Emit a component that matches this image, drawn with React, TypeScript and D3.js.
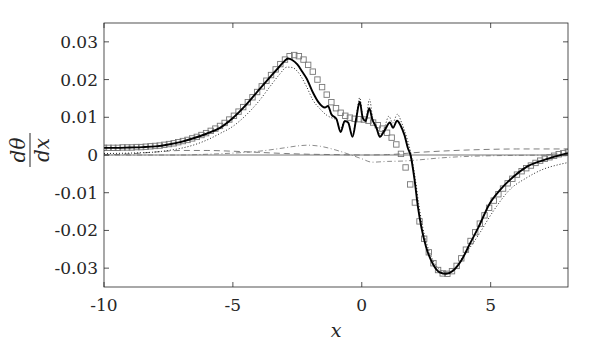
import * as d3 from 'd3';
import { useEffect, useRef } from 'react';

// x, y pairs
const solidCurve: [number, number][] = [
  [-10, 0.0019], [-9.5, 0.0019], [-9, 0.002], [-8.5, 0.0021], [-8, 0.0023], [-7.5, 0.0028],
  [-7, 0.0035], [-6.5, 0.0045], [-6, 0.0057], [-5.5, 0.0072], [-5, 0.0098], [-4.5, 0.0132],
  [-4, 0.0172], [-3.5, 0.0211], [-3.2, 0.0234], [-3, 0.0249], [-2.86, 0.0256], [-2.7, 0.0252],
  [-2.5, 0.024], [-2.3, 0.022], [-2.14, 0.0203], [-1.89, 0.0165], [-1.69, 0.0141], [-1.43, 0.0126],
  [-1.31, 0.013], [-1.18, 0.0108], [-0.98, 0.0095], [-0.82, 0.0061], [-0.66, 0.009], [-0.53, 0.0086],
  [-0.36, 0.0048], [-0.21, 0.0099], [-0.08, 0.0141], [0.04, 0.0098], [0.15, 0.009], [0.29, 0.0124],
  [0.41, 0.0094], [0.57, 0.0072], [0.7, 0.0048], [0.89, 0.0066], [1.09, 0.0086], [1.21, 0.0072],
  [1.37, 0.0091], [1.5, 0.0079], [1.66, 0.0052], [1.79, 0.0018], [1.89, 0.0], [2.05, -0.0067],
  [2.18, -0.0138], [2.31, -0.0191], [2.5, -0.0245], [2.76, -0.0289], [3.02, -0.0311], [3.28, -0.0315],
  [3.54, -0.0307], [3.86, -0.028], [4.19, -0.0236], [4.51, -0.0194], [4.96, -0.0129], [5.35, -0.0094],
  [5.86, -0.0059], [6.38, -0.0032], [7.03, -0.0014], [7.67, -0.0001], [8, 0.0005],
];

const squareX: number[] = [
  -10, -9.82, -9.64, -9.46, -9.28, -9.1, -8.92, -8.74, -8.56, -8.38, -8.2, -8.02, -7.84, -7.66,
  -7.48, -7.3, -7.12, -6.94, -6.76, -6.58, -6.4, -6.22, -6.04, -5.86, -5.68, -5.5, -5.32, -5.14,
  -4.96, -4.78, -4.6, -4.42, -4.24, -4.06, -3.88, -3.7, -3.52, -3.34, -3.16, -2.98, -2.8, -2.62,
  -2.44, -2.26, -2.08, -1.9, -1.72, -1.54, -1.36, -1.18, -1, -0.82, -0.64, -0.46, -0.28, -0.1,
  0.08, 0.26, 0.44, 0.62, 0.8, 0.98, 1.16, 1.34, 1.52, 1.7, 1.88, 2.06, 2.24, 2.42, 2.6, 2.78,
  2.96, 3.14, 3.32, 3.5, 3.68, 3.86, 4.04, 4.22, 4.4, 4.58, 4.76, 4.94, 5.12, 5.3, 5.48, 5.66,
  5.84, 6.02, 6.2, 6.38, 6.56, 6.74, 6.92, 7.1, 7.28, 7.46, 7.64, 7.82, 8,
];
const squareY: number[] = [
  0.0019, 0.0019, 0.0019, 0.0019, 0.002, 0.002, 0.002, 0.0021, 0.0021, 0.0022, 0.0023, 0.0024,
  0.0025, 0.0027, 0.0029, 0.0031, 0.0034, 0.0037, 0.004, 0.0044, 0.0048, 0.0053, 0.0058, 0.0064,
  0.007, 0.0077, 0.0085, 0.0094, 0.0104, 0.0115, 0.0127, 0.014, 0.0153, 0.0167, 0.0182, 0.0197,
  0.0212, 0.0227, 0.0241, 0.0253, 0.0262, 0.0265, 0.0262, 0.0253, 0.0239, 0.0221, 0.02, 0.018,
  0.016, 0.014, 0.0124, 0.0112, 0.0104, 0.0099, 0.0096, 0.0095, 0.0094, 0.0091, 0.0086, 0.0079,
  0.007, 0.0059, 0.0046, 0.0028, 0.0003, -0.0033, -0.0078, -0.0126, -0.0176, -0.0222, -0.0258,
  -0.0287, -0.0305, -0.0314, -0.0315, -0.0308, -0.0294, -0.0274, -0.0251, -0.0228, -0.0205,
  -0.0182, -0.016, -0.014, -0.0121, -0.0104, -0.0089, -0.0075, -0.0063, -0.0052, -0.0043,
  -0.0035, -0.0028, -0.0021, -0.0015, -0.001, -0.0006, -0.0002, 0.0002, 0.0005, 0.0008,
];

const dottedCurve: [number, number][] = [
  [-10, 0.0004], [-9, 0.0005], [-8, 0.0008], [-7.5, 0.0012], [-7, 0.0018], [-6.5, 0.0027],
  [-6, 0.004], [-5.5, 0.0057], [-5, 0.0076], [-4.5, 0.0105], [-4, 0.0142], [-3.5, 0.0187],
  [-3.2, 0.0213], [-2.9, 0.0233], [-2.7, 0.0232], [-2.5, 0.0222], [-2.14, 0.0181], [-1.89, 0.0145],
  [-1.63, 0.0123], [-1.37, 0.0106], [-1.11, 0.0097], [-0.98, 0.0094], [-0.85, 0.0068],
  [-0.66, 0.009], [-0.53, 0.0086], [-0.36, 0.0055], [-0.21, 0.0105], [-0.08, 0.0152],
  [0.05, 0.0098], [0.15, 0.0095], [0.3, 0.0148], [0.42, 0.01], [0.57, 0.0078], [0.7, 0.0055],
  [0.89, 0.0075], [1.05, 0.0103], [1.2, 0.0085], [1.38, 0.0108], [1.55, 0.0085], [1.75, 0.0045],
  [1.92, 0.0], [2.08, -0.0065], [2.22, -0.0135], [2.36, -0.019], [2.55, -0.0242], [2.8, -0.0284],
  [3.06, -0.0306], [3.34, -0.0311], [3.6, -0.03], [3.9, -0.0272], [4.2, -0.0245], [4.5, -0.0215],
  [5.09, -0.015], [5.74, -0.0092], [6.38, -0.0061], [7.03, -0.0038], [7.67, -0.0025], [8, -0.002],
];

const dashedCurve: [number, number][] = [
  [-10, 0.0], [-9, 0.0003], [-8, 0.0008], [-7, 0.0012], [-6, 0.0012], [-5, 0.001], [-4, 0.0007],
  [-3, 0.0004], [-2, 0.0002], [-1, 0.0001], [0, 0.0], [1, 0.0001], [1.5, 0.0003], [2, 0.0006],
  [3, 0.001], [4, 0.0013], [5, 0.0015], [6, 0.0016], [7, 0.0016], [8, 0.0016],
];

const dashDotCurve: [number, number][] = [
  [-10, 0], [-7, 0], [-6, 0.0002], [-5, 0.0005], [-4, 0.001], [-3, 0.0019], [-2.5, 0.0024],
  [-2.1, 0.0026], [-1.6, 0.0023], [-1, 0.0013], [-0.5, 0.0002], [0, -0.001], [0.4, -0.0019],
  [1, -0.0017], [1.6, -0.0016], [2.2, -0.0013], [3, -0.0008], [4, -0.0004], [5, -0.0002],
  [6, -0.0001], [8, 0],
];

const zeroLine: [number, number][] = [[-10, 0], [8, 0]];

const xTicks = [-10, -5, 0, 5];
const yTicks = [-0.03, -0.02, -0.01, 0, 0.01, 0.02, 0.03];

const W = 598;
const H = 345;
const SERIF = "'DejaVu Serif', serif";

export default function App() {
  const ref = useRef<SVGSVGElement>(null);

  useEffect(() => {
    const svg = d3.select(ref.current);
    svg.selectAll('*').remove();

    const margin = { top: 23, right: 30, bottom: 58, left: 104 };
    const innerW = W - margin.left - margin.right;
    const innerH = H - margin.top - margin.bottom;

    const x = d3.scaleLinear().domain([-10, 8]).range([0, innerW]);
    const y = d3.scaleLinear().domain([-0.035, 0.035]).range([innerH, 0]);

    svg.append('rect').attr('width', W).attr('height', H).attr('fill', '#ffffff');

    const g = svg.append('g').attr('transform', `translate(${margin.left},${margin.top})`);

    g.append('defs').append('clipPath').attr('id', 'plot-clip')
      .append('rect').attr('width', innerW).attr('height', innerH);

    const plot = g.append('g').attr('clip-path', 'url(#plot-clip)');

    const line = d3.line<[number, number]>()
      .x((d) => x(d[0]))
      .y((d) => y(d[1]))
      .curve(d3.curveMonotoneX);

    plot.append('path').datum(zeroLine)
      .attr('d', line).attr('fill', 'none')
      .attr('stroke', '#666').attr('stroke-width', 0.9);

    plot.append('path').datum(dashedCurve)
      .attr('d', line).attr('fill', 'none')
      .attr('stroke', '#6e6e6e').attr('stroke-width', 0.9)
      .attr('stroke-dasharray', '6,4');

    plot.append('path').datum(dashDotCurve)
      .attr('d', line).attr('fill', 'none')
      .attr('stroke', '#6e6e6e').attr('stroke-width', 0.8)
      .attr('stroke-dasharray', '5,2.5,1,2.5');

    plot.append('path').datum(dottedCurve)
      .attr('d', line).attr('fill', 'none')
      .attr('stroke', '#222').attr('stroke-width', 1)
      .attr('stroke-dasharray', '1,2');

    const squares = squareX.map((v, i) => [v, squareY[i]] as [number, number]);
    plot.selectAll('rect.sq')
      .data(squares)
      .enter()
      .append('rect')
      .attr('class', 'sq')
      .attr('x', (d) => x(d[0]) - 2.7)
      .attr('y', (d) => y(d[1]) - 2.7)
      .attr('width', 5.4)
      .attr('height', 5.4)
      .attr('fill', 'none')
      .attr('stroke', '#777')
      .attr('stroke-width', 0.9);

    plot.append('path').datum(solidCurve)
      .attr('d', line).attr('fill', 'none')
      .attr('stroke', '#000').attr('stroke-width', 1.9)
      .attr('stroke-linejoin', 'round');

    // box and mirrored ticks
    const axisColor = '#262626';
    const tickLen = 5;
    g.append('rect')
      .attr('width', innerW).attr('height', innerH)
      .attr('fill', 'none').attr('stroke', axisColor).attr('stroke-width', 0.8);

    xTicks.forEach((t) => {
      const px = x(t);
      g.append('line').attr('x1', px).attr('x2', px).attr('y1', innerH).attr('y2', innerH - tickLen)
        .attr('stroke', axisColor).attr('stroke-width', 0.8);
      g.append('line').attr('x1', px).attr('x2', px).attr('y1', 0).attr('y2', tickLen)
        .attr('stroke', axisColor).attr('stroke-width', 0.8);
      g.append('text')
        .attr('x', px).attr('y', innerH + 24)
        .attr('text-anchor', 'middle')
        .style('font-family', SERIF)
        .style('font-size', '17px')
        .attr('fill', axisColor)
        .text(String(t));
    });

    yTicks.forEach((t) => {
      const py = y(t);
      g.append('line').attr('x1', 0).attr('x2', tickLen).attr('y1', py).attr('y2', py)
        .attr('stroke', axisColor).attr('stroke-width', 0.8);
      g.append('line').attr('x1', innerW).attr('x2', innerW - tickLen).attr('y1', py).attr('y2', py)
        .attr('stroke', axisColor).attr('stroke-width', 0.8);
      g.append('text')
        .attr('x', -6).attr('y', py + 6)
        .attr('text-anchor', 'end')
        .style('font-family', SERIF)
        .style('font-size', '17px')
        .attr('fill', axisColor)
        .text(t === 0 ? '0' : d3.format('.2f')(t).replace('−', '-'));
    });

    // x label
    svg.append('text')
      .attr('x', margin.left + innerW / 2).attr('y', 337)
      .attr('text-anchor', 'middle')
      .style('font-family', SERIF)
      .style('font-style', 'italic')
      .style('font-size', '19px')
      .attr('fill', axisColor)
      .text('x');

    // y label: d theta / dx fraction, rotated
    const fy = svg.append('g').attr('transform', 'translate(30,150) rotate(-90)');
    fy.append('text')
      .attr('x', 0).attr('y', -5)
      .attr('text-anchor', 'middle')
      .style('font-family', SERIF)
      .style('font-style', 'italic')
      .style('font-size', '20px')
      .attr('fill', axisColor)
      .text('dθ');
    fy.append('line')
      .attr('x1', -17).attr('x2', 17).attr('y1', 0).attr('y2', 0)
      .attr('stroke', axisColor).attr('stroke-width', 1);
    fy.append('text')
      .attr('x', 0).attr('y', 19)
      .attr('text-anchor', 'middle')
      .style('font-family', SERIF)
      .style('font-style', 'italic')
      .style('font-size', '20px')
      .attr('fill', axisColor)
      .text('dx');

    return () => {
      svg.selectAll('*').remove();
    };
  }, []);

  return (
    <svg
      ref={ref}
      width={W}
      height={H}
      style={{ position: 'absolute', left: 0, top: 0, display: 'block' }}
    />
  );
}
